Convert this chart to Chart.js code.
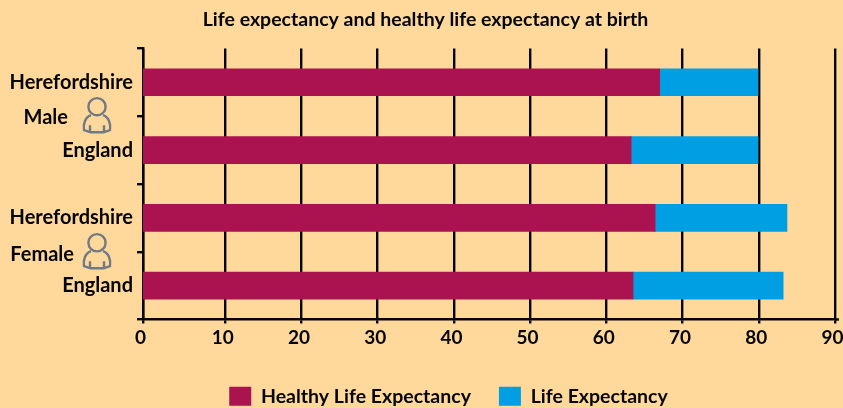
<!DOCTYPE html>
<html><head><meta charset="utf-8">
<style>html,body{margin:0;padding:0;background:#FFD99C}#w{width:843px;height:408px;position:relative}</style>
<script src="https://cdn.jsdelivr.net/npm/chart.js@4"></script></head>
<body><div id="w"><canvas id="c" width="843" height="408"></canvas></div>
<script>
const categories = ["Herefordshire","England","Herefordshire","England"];
const healthyLife = [67.0,63.25,66.4,63.5];
const lifeExpectancy = [79.9,79.9,83.7,83.2];
const xTicks = [10,20,30,40,50,60,70,80,90];
const axisStart = -0.79; // the reference's left axis, labelled 0, sits just left of where 0 falls on its evenly spaced ticks
const groupLabels = ["Male","Female"];
const groupSpans = [[0,1],[2,3]];

const groupLook = [{right:68,textDy:1,iconDy:0},{right:74,textDy:3,iconDy:0.5}];
const font = "Lato, 'Open Sans', sans-serif";
const ink = "#050505";

const groupPlugin = {
  id:"groups",
  afterLayout(chart){ chart.legend.left += 46; },
  afterDraw(chart){
    const {ctx,chartArea:a,scales:{y}} = chart;
    ctx.save();
    ctx.strokeStyle = ink; ctx.lineWidth = 2.4;
    ctx.beginPath(); ctx.moveTo(a.right,a.bottom); ctx.lineTo(a.right+4,a.bottom); ctx.stroke();
    groupLabels.forEach((label,i)=>{
      const span = groupSpans[i], look = groupLook[i];
      const mid = (y.getPixelForValue(span[0])+y.getPixelForValue(span[1]))/2;
      ctx.fillStyle = ink; ctx.font = "700 20px "+font;
      ctx.textAlign = "right"; ctx.textBaseline = "middle";
      ctx.fillText(label,look.right,mid+look.textDy);
      const cx = 97, cy = mid+look.iconDy;
      ctx.strokeStyle = "#6f7a84"; ctx.lineWidth = 2.4; ctx.lineJoin="round";
      ctx.beginPath(); ctx.arc(cx,cy-9.5,8.6,0,Math.PI*2); ctx.stroke();
      ctx.beginPath();
      ctx.moveTo(cx-6,cy-1);
      ctx.bezierCurveTo(cx-12,cy+1,cx-14,cy+8,cx-13,cy+14);
      ctx.lineTo(cx-7,cy+16);
      ctx.lineTo(cx-7,cy+9);
      ctx.moveTo(cx-7,cy+16); ctx.lineTo(cx+7,cy+16); ctx.lineTo(cx+7,cy+9);
      ctx.moveTo(cx+7,cy+16); ctx.lineTo(cx+13,cy+14);
      ctx.bezierCurveTo(cx+14,cy+8,cx+12,cy+1,cx+6,cy-1);
      ctx.stroke();
    });
    ctx.restore();
  }
};

new Chart(document.getElementById("c"),{
  type:"bar",
  data:{labels:categories,datasets:[
    {label:"Healthy Life Expectancy",data:healthyLife.map(v=>[axisStart,v]),backgroundColor:"#AA1350",barThickness:27,borderWidth:0,borderSkipped:false},
    {label:"Life Expectancy",data:lifeExpectancy.map((v,i)=>[healthyLife[i],v]),backgroundColor:"#009FE3",barThickness:27,borderWidth:0,borderSkipped:false}
  ]},
  plugins:[groupPlugin],
  options:{
    indexAxis:"y",responsive:false,animation:false,
    layout:{padding:{left:8,right:0,top:8,bottom:-8}},
    scales:{
      x:{type:"linear",min:axisStart,max:90,
        afterBuildTicks(s){s.ticks=[axisStart,...xTicks].map(v=>({value:v}));},
        afterFit(s){s.height=39;s.paddingLeft=0;s.paddingRight=8;},
        grid:{color:ink,lineWidth:2.4,tickLength:4,drawTicks:true},
        border:{color:ink,width:2.4},
        ticks:{color:ink,font:{family:font,weight:"700",size:19},padding:3,labelOffset:-2.5,maxRotation:0,autoSkip:false,
          callback:v=>v===axisStart?"0":String(v)}},
      y:{stacked:true,
        afterFit(s){s.width=135;},
        grid:{drawOnChartArea:false,color:ink,lineWidth:2.4,tickLength:6,offset:true},
        border:{color:ink,width:2.4},
        ticks:{color:ink,font:{family:font,weight:"700",size:20},padding:4}}
    },
    plugins:{
      title:{display:true,text:"Life expectancy and healthy life expectancy at birth",color:ink,
        font:{family:font,weight:"700",size:19.5},padding:{top:0,bottom:17}},
      legend:{position:"bottom",labels:{color:ink,font:{family:font,weight:"700",size:19.5},boxWidth:22,boxHeight:19,padding:28}},
      tooltip:{enabled:false}
    }
  }
});
</script></body></html>
